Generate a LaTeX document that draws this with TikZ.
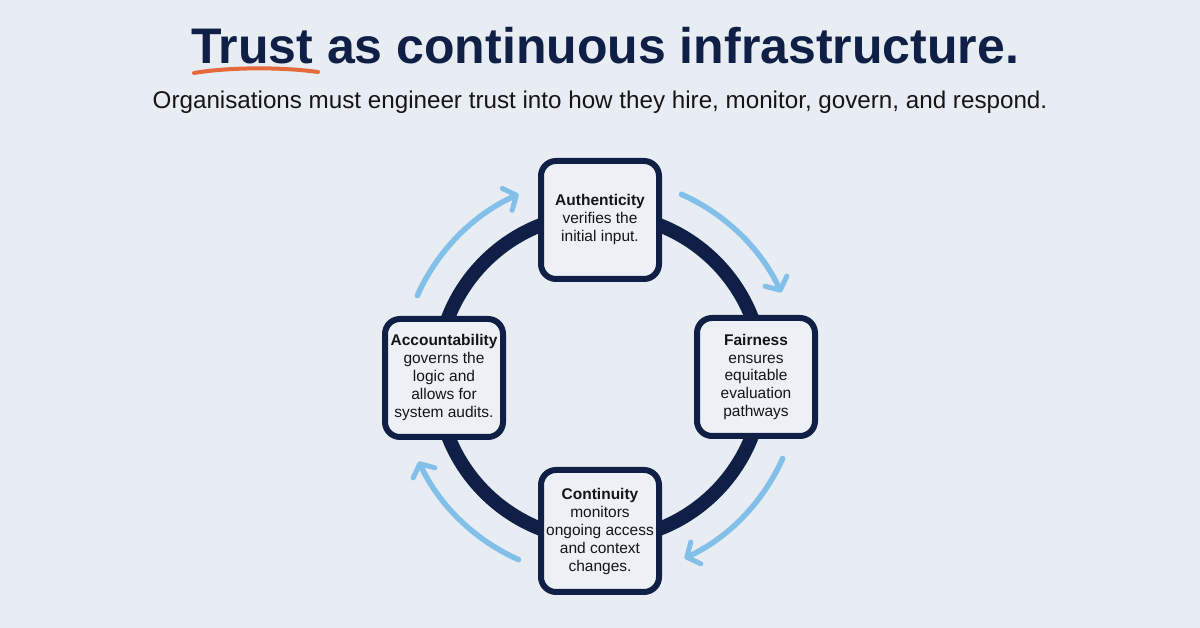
\documentclass[tikz,border=0pt]{standalone}
\usepackage{fontspec}
\setmainfont{Liberation Sans}
\usetikzlibrary{arrows.meta}
\definecolor{bg}{HTML}{E8EDF3}
\definecolor{navy}{HTML}{0F1F45}
\definecolor{boxfill}{HTML}{EDF1F6}
\definecolor{sky}{HTML}{82BFE9}
\definecolor{accent}{HTML}{E66A3C}
\definecolor{ink}{HTML}{151515}
\begin{document}
\begin{tikzpicture}[x=1pt,y=1pt,
  stepbox/.style={draw=navy,line width=6pt,fill=boxfill,rounded corners=15pt,
    minimum width=118pt,minimum height=118pt,align=center,text=ink,
    font=\fontsize{15.5}{18}\selectfont,inner sep=0pt},
  flow/.style={draw=sky,line width=5.5pt,line cap=round,
    -{Straight Barb[length=10pt,width=24pt,line width=5pt,round]}}]
\useasboundingbox (0,0) rectangle (1200,628);
\fill[bg] (0,0) rectangle (1200,628);
% title
\node[anchor=base,text=navy,font=\fontsize{50}{56}\bfseries\selectfont,inner sep=0pt] (title) at (605,564) {Trust as continuous infrastructure.};
\draw[accent,line width=4pt,line cap=round] (194,555) .. controls (230,561) and (282,561) .. (318,556);
\node[anchor=base,text=ink,font=\fontsize{24.2}{28}\selectfont,inner sep=0pt] (sub) at (600,519) {Organisations must engineer trust into how they hire, monitor, govern, and respond.};
% ring
\coordinate (c) at (600,251);
\draw[navy,line width=14pt] (c) circle[radius=163];
% boxes
\node[stepbox] (auth) at (600,408) {\textbf{Authenticity}\\verifies the\\initial input.};
\node[stepbox] (fair) at (756,251) {\textbf{Fairness}\\ensures\\equitable\\evaluation\\pathways};
\node[stepbox,minimum height=122pt] (cont) at (600,97) {\textbf{Continuity}\\monitors\\ongoing access\\and context\\changes.};
\node[stepbox] (acc) at (444,250) {\textbf{Accountability}\\governs the\\logic and\\allows for\\system audits.};
% flow arrows
\coordinate (f1) at ([shift={(156:200)}]c);
\coordinate (f2) at ([shift={(66:200)}]c);
\coordinate (f3) at ([shift={(-24:200)}]c);
\coordinate (f4) at ([shift={(-114:200)}]c);
\draw[flow] (f1) arc[start angle=156,end angle=114,radius=200];
\draw[flow] (f2) arc[start angle=66,end angle=25,radius=200];
\draw[flow] (f3) arc[start angle=-24,end angle=-65,radius=200];
\draw[flow] (f4) arc[start angle=-114,end angle=-155,radius=200];
\end{tikzpicture}
\end{document}
